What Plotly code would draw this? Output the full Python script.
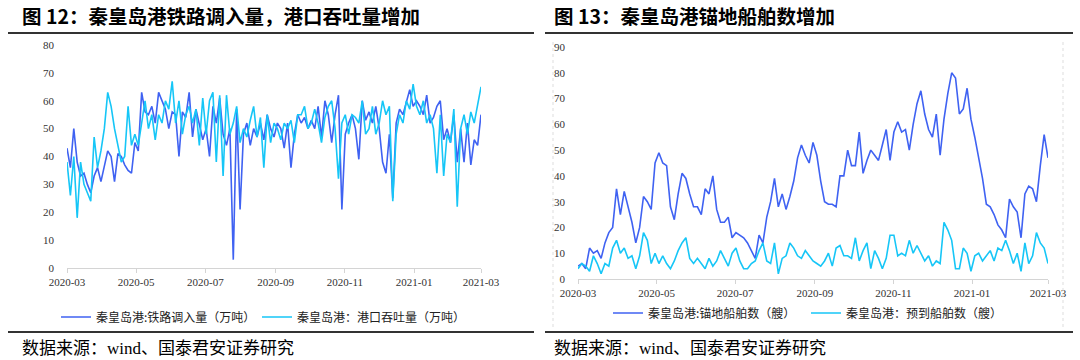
import plotly.graph_objects as go
import pandas as pd

# ---------------- data ----------------
start_date = "2020-03-01"
end_date = "2021-03-01"
n_points = 123

# Fig 12: Qinhuangdao port rail inflow / port throughput (10k tonnes)
rail_inflow = [43, 36, 50, 38, 33, 34, 30, 27, 33, 36,
               31, 36, 42, 40, 31, 41, 40, 37, 35, 34,
               45, 42, 63, 56, 55, 58, 52, 63, 60, 57,
               50, 56, 55, 40, 56, 54, 63, 47, 57, 52,
               46, 50, 40, 58, 52, 61, 48, 44, 50, 3,
               57, 21, 48, 52, 44, 50, 47, 52, 46, 55,
               50, 47, 52, 50, 43, 52, 36, 48, 55, 52,
               54, 50, 53, 50, 58, 47, 60, 55, 45, 55,
               62, 21, 48, 52, 55, 50, 39, 60, 53, 56,
               52, 58, 50, 38, 34, 48, 25, 52, 57, 55,
               60, 64, 58, 60, 58, 55, 62, 52, 54, 58,
               60, 46, 50, 45, 55, 38, 50, 38, 52, 37,
               46, 44, 55]
throughput = [38, 26, 40, 18, 38, 30, 27, 24, 47, 36,
              42, 50, 63, 58, 50, 44, 38, 40, 58, 44,
              48, 44, 52, 60, 50, 55, 46, 55, 52, 60,
              57, 67, 52, 60, 48, 55, 58, 52, 57, 44,
              61, 48, 60, 63, 38, 62, 33, 62, 48, 52,
              58, 45, 50, 47, 53, 58, 47, 54, 36, 55,
              45, 52, 50, 46, 52, 50, 53, 45, 55, 55,
              58, 50, 52, 57, 52, 45, 54, 58, 60, 50,
              32, 52, 55, 48, 55, 54, 52, 60, 48, 50,
              58, 48, 52, 60, 55, 58, 24, 48, 55, 52,
              60, 57, 66, 58, 55, 60, 52, 55, 50, 34,
              55, 33, 48, 45, 57, 22, 50, 55, 48, 56,
              52, 58, 65]

# Fig 13: anchorage ships / expected arrivals (ships)
anchored_ships = [5, 6, 4, 12, 10, 11, 8, 14, 18, 20,
                  35, 25, 34, 28, 22, 14, 20, 32, 30, 27,
                  45, 49, 45, 44, 28, 23, 33, 41, 39, 33,
                  28, 28, 25, 35, 33, 40, 27, 22, 22, 24,
                  16, 18, 17, 16, 14, 11, 8, 17, 14, 24,
                  30, 39, 28, 33, 27, 32, 38, 47, 52, 48,
                  45, 53, 48, 38, 30, 29, 29, 28, 40, 40,
                  50, 44, 44, 57, 41, 46, 50, 48, 46, 52,
                  58, 46, 57, 61, 57, 58, 50, 60, 68, 73,
                  64, 58, 55, 64, 48, 62, 72, 80, 78, 64,
                  66, 74, 62, 55, 47, 39, 29, 28, 25, 21,
                  19, 16, 31, 28, 26, 16, 33, 36, 35, 30,
                  44, 56, 47]
expected_ships = [4, 6, 5, 3, 9, 6, 2, 6, 5, 12,
                  15, 10, 12, 8, 9, 4, 9, 18, 15, 6,
                  10, 6, 9, 6, 4, 7, 11, 14, 16, 8,
                  6, 8, 6, 4, 8, 5, 7, 11, 8, 5,
                  10, 12, 7, 4, 4, 6, 7, 11, 14, 7,
                  6, 14, 2, 8, 9, 14, 12, 9, 8, 11,
                  9, 7, 6, 5, 7, 10, 5, 12, 13, 9,
                  9, 8, 16, 7, 11, 14, 4, 11, 8, 4,
                  8, 17, 17, 9, 10, 9, 15, 10, 13, 10,
                  7, 9, 5, 7, 6, 22, 19, 15, 4, 4,
                  12, 10, 3, 9, 10, 7, 9, 11, 7, 12,
                  11, 15, 11, 6, 10, 3, 14, 6, 9, 18,
                  14, 12, 6]

tick_dates = ["2020-03-01", "2020-05-01", "2020-07-01", "2020-09-01",
              "2020-11-01", "2021-01-01", "2021-03-01"]
tick_labels = ["2020-03", "2020-05", "2020-07", "2020-09",
               "2020-11", "2021-01", "2021-03"]

names = ["秦皇岛港:铁路调入量（万吨）", "秦皇岛港：港口吞吐量（万吨）",
         "秦皇岛港:锚地船舶数（艘）", "秦皇岛港：预到船舶数（艘）"]
titles = ["图 12：秦皇岛港铁路调入量，港口吞吐量增加", "图 13：秦皇岛港锚地船舶数增加"]
source = "数据来源：wind、国泰君安证券研究"

dates = pd.date_range(start_date, end_date, periods=n_points)

# ---------------- styling ----------------
BLUE = "#3F62F2"
CYAN = "#16C6F7"
W, H = 1080, 360
SERIF = "Liberation Serif, Times New Roman, serif"
CJK = "Noto Sans CJK SC, sans-serif"

fig = go.Figure()
fig.add_trace(go.Scatter(x=dates, y=rail_inflow, name=names[0], mode="lines",
                         line=dict(color=BLUE, width=1.6), xaxis="x", yaxis="y", legend="legend"))
fig.add_trace(go.Scatter(x=dates, y=throughput, name=names[1], mode="lines",
                         line=dict(color=CYAN, width=1.6), xaxis="x", yaxis="y", legend="legend"))
fig.add_trace(go.Scatter(x=dates, y=anchored_ships, name=names[2], mode="lines",
                         line=dict(color=BLUE, width=1.6), xaxis="x2", yaxis="y2", legend="legend2"))
fig.add_trace(go.Scatter(x=dates, y=expected_ships, name=names[3], mode="lines",
                         line=dict(color=CYAN, width=1.6), xaxis="x2", yaxis="y2", legend="legend2"))

xcommon = dict(range=[start_date, end_date], tickvals=tick_dates, ticktext=tick_labels,
               showgrid=False, zeroline=False, showline=True, linecolor="#d4d4d4", linewidth=1,
               ticks="outside", ticklen=4, tickcolor="#d4d4d4",
               tickfont=dict(family=SERIF, size=11, color="#333333"))
ycommon = dict(showgrid=False, zeroline=False, showline=False, ticks="",
               tickfont=dict(family=SERIF, size=11, color="#333333"), ticklabelstandoff=12)

legend_style = dict(orientation="h", xanchor="left", yanchor="middle",
                    font=dict(family=CJK, size=12, color="#222222"), bgcolor="rgba(0,0,0,0)",
                    itemwidth=30, entrywidthmode="pixels")

fig.update_layout(
    width=W, height=H, margin=dict(l=0, r=0, t=0, b=0, autoexpand=False),
    paper_bgcolor="white", plot_bgcolor="white",
    xaxis=dict(domain=[67 / W, 481 / W], anchor="y", **xcommon),
    yaxis=dict(domain=[1 - 268 / H, 1 - 45 / H], range=[0, 80], dtick=10, anchor="x", **ycommon),
    xaxis2=dict(domain=[578 / W, 1048 / W], anchor="y2", **xcommon),
    yaxis2=dict(domain=[1 - 279 / H, 1 - 47 / H], range=[0, 90], dtick=10, anchor="x2", **ycommon),
    legend=dict(x=56 / W, y=1 - 317 / H, entrywidth=156, **legend_style),
    legend2=dict(x=608 / W, y=1 - 313 / H, entrywidth=153, **legend_style),
    showlegend=True,
)

# titles and source notes
for xpos, txt in [(20, titles[0]), (552, titles[1])]:
    fig.add_annotation(x=xpos / W, y=1 - 16 / H, xref="paper", yref="paper", xanchor="left",
                       yanchor="middle", showarrow=False, text="<b>" + txt + "</b>",
                       font=dict(family=CJK, size=19.5, color="#000000"))
for xpos in [20, 552]:
    fig.add_annotation(x=xpos / W, y=1 - 348 / H, xref="paper", yref="paper", xanchor="left",
                       yanchor="middle", showarrow=False, text=source,
                       font=dict(family="Liberation Serif, " + CJK, size=17, color="#000000"))

# rules under titles and above sources
for x0, x1 in [(8, 534), (545, 1073)]:
    for yy in [33, 332]:
        fig.add_shape(type="line", xref="paper", yref="paper", x0=x0 / W, x1=x1 / W,
                      y0=1 - yy / H, y1=1 - yy / H, line=dict(color="#333333", width=2))

# faint dotted frame of the right chart
for xx in [553, 1063]:
    fig.add_shape(type="line", xref="paper", yref="paper", x0=xx / W, x1=xx / W,
                  y0=1 - 42 / H, y1=1 - 328 / H, line=dict(color="#dddddd", width=1, dash="dot"))

fig.write_html("out.html", config={"displayModeBar": False},
               post_script="document.body.style.margin='0';document.body.style.overflow='hidden';")
